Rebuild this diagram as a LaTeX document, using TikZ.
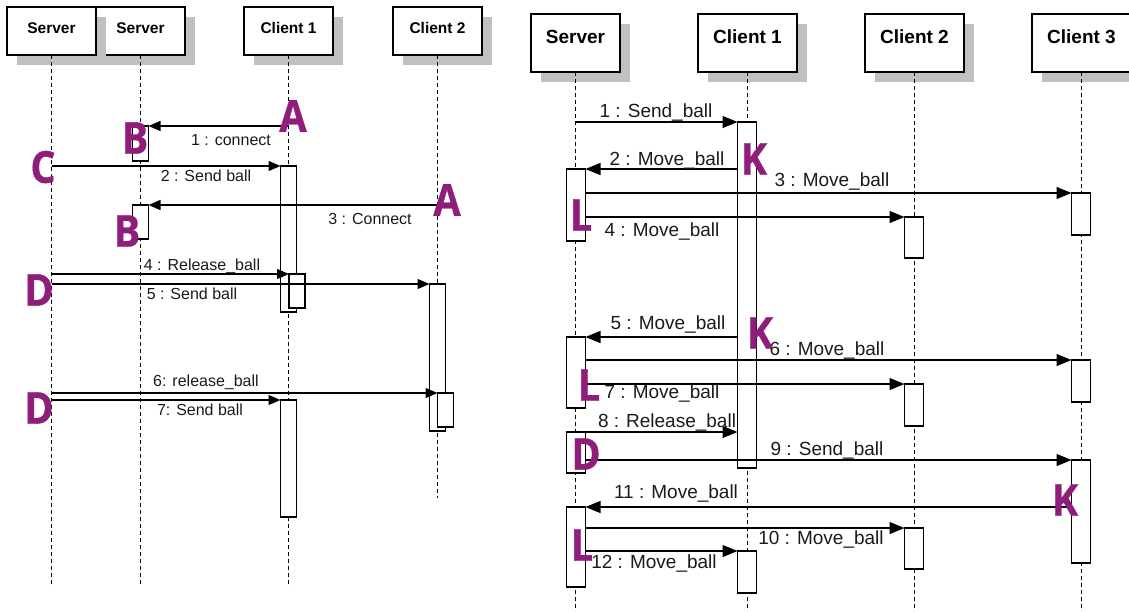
\documentclass[tikz,border=0pt]{standalone}
\usepackage{fontspec}
\setmainfont{Liberation Sans}
\newfontfamily\letterfont{Open Sans}[BoldFeatures={FakeBold=0.8}]
\usetikzlibrary{arrows.meta}
\definecolor{shadowgray}{HTML}{C0C0C0}
\definecolor{markpurple}{HTML}{8E1E7A}
\definecolor{inkcol}{HTML}{1A1A1A}
\begin{document}
\begin{tikzpicture}[x=1pt,y=-1pt,
  shadowbox/.style={fill=shadowgray, draw=none, inner sep=0pt, outer sep=0pt, anchor=north west},
  hdrbox/.style={draw=black, fill=white, line width=1.2pt, inner sep=0pt, outer sep=0pt, anchor=north west},
  lifeline/.style={line width=1pt, dash pattern=on 4pt off 3pt},
  actbox/.style={draw=black, fill=white, line width=1.2pt, inner sep=0pt, outer sep=0pt, anchor=north west},
  msgL/.style={line width=1.2pt, -{Triangle[length=12pt,width=10pt]}},
  msgR/.style={line width=1.2pt, -{Triangle[length=15pt,width=12pt]}},
  lblL/.style={anchor=base, inner sep=0pt, text=inkcol, font=\fontsize{16}{16}\selectfont},
  lblR/.style={anchor=base, inner sep=0pt, text=inkcol, font=\fontsize{19}{19}\selectfont},
  hdrL/.style={anchor=base, inner sep=0pt, font=\bfseries\fontsize{15.5}{15.5}\selectfont},
  hdrR/.style={anchor=base, inner sep=0pt, font=\bfseries\fontsize{19}{19}\selectfont},
  bigletter/.style={text=markpurple, inner sep=0pt, anchor=center, xscale=0.9, font=\letterfont\bfseries\fontsize{44}{44}\selectfont}
]
\useasboundingbox (0,0) rectangle (1129,611);

% ================= LEFT DIAGRAM =================
% headers
\node[shadowbox, minimum width=89pt, minimum height=48pt] (s2sh) at (106,17) {};
\node[hdrbox, minimum width=89pt, minimum height=48pt] (ls2) at (96,7) {};
\node[shadowbox, minimum width=89pt, minimum height=48pt] (s1sh) at (17,17) {};
\node[hdrbox, minimum width=89pt, minimum height=48pt] (ls1) at (7,7) {};
\node[shadowbox, minimum width=89pt, minimum height=48pt] (c1sh) at (254,17) {};
\node[hdrbox, minimum width=89pt, minimum height=48pt] (lc1) at (244,7) {};
\node[shadowbox, minimum width=89pt, minimum height=48pt] (c2sh) at (403,17) {};
\node[hdrbox, minimum width=89pt, minimum height=48pt] (lc2) at (393,7) {};
\node[hdrL] (ls1t) at (51.5,33) {Server};
\node[hdrL] (ls2t) at (140.5,33) {Server};
\node[hdrL] (lc1t) at (288.5,33) {Client 1};
\node[hdrL] (lc2t) at (437.5,33) {Client 2};

% lifelines
\coordinate (ls1end) at (51.5,587);
\coordinate (ls2end) at (140.5,584);
\coordinate (lc1end) at (288.5,587);
\coordinate (lc2end) at (437.5,498);
\draw[lifeline] (ls1.south) -- (ls1end);
\draw[lifeline] (ls2.south) -- (ls2end);
\draw[lifeline] (lc1.south) -- (lc1end);
\draw[lifeline] (lc2.south) -- (lc2end);

% activations
\node[actbox, minimum width=16pt, minimum height=35pt] (lb1) at (132.5,126) {};
\node[actbox, minimum width=16pt, minimum height=34pt] (lb2) at (132.5,205) {};
\node[actbox, minimum width=16pt, minimum height=146pt] (lc1a) at (280.5,166) {};
\node[actbox, minimum width=16pt, minimum height=34pt] (lc1n) at (289,274) {};
\node[actbox, minimum width=16pt, minimum height=147pt] (lc2a) at (429.5,284) {};
\node[actbox, minimum width=16pt, minimum height=34pt] (lc2n) at (437.5,393) {};
\node[actbox, minimum width=16pt, minimum height=117pt] (lc1b) at (280.5,400) {};

% messages
\coordinate (m1a) at (288.5,126);
\coordinate (m2a) at (51.5,166);
\coordinate (m3a) at (437.5,205);
\coordinate (m4a) at (51.5,274);
\coordinate (m5a) at (51.5,284);
\coordinate (m6a) at (51.5,393);
\coordinate (m7a) at (51.5,400);
\draw[msgL] (m1a) -- (lb1.north east);
\draw[msgL] (m2a) -- (lc1a.north west);
\draw[msgL] (m3a) -- (lb2.north east);
\draw[msgL] (m4a) -- (lc1n.north west);
\draw[msgL] (m5a) -- (lc2a.north west);
\draw[msgL] (m6a) -- (lc2n.north west);
\draw[msgL] (m7a) -- (lc1b.north west);

\node[lblL] (l1) at (231,145) {1 : connect};
\node[lblL] (l2) at (206,181) {2 : Send ball};
\node[lblL] (l3) at (370,224) {3 : Connect};
\node[lblL] (l4) at (202,270) {4 : Release\_ball};
\node[lblL] (l5) at (192,299) {5 : Send ball};
\node[lblL] (l6) at (206,386) {6: release\_ball};
\node[lblL] (l7) at (200,415) {7: Send ball};

% letters
\node[bigletter] (LA1) at (293,116) {A};
\node[bigletter] (LB1) at (135,138) {B};
\node[bigletter] (LC1) at (43,167) {C};
\node[bigletter] (LA2) at (447,200) {A};
\node[bigletter] (LB2) at (127,231) {B};
\node[bigletter] (LD1) at (39,290) {D};
\node[bigletter] (LD2) at (39,408) {D};

% ================= RIGHT DIAGRAM =================
\node[shadowbox, minimum width=89pt, minimum height=58pt] (rssh) at (541,24) {};
\node[hdrbox, minimum width=89pt, minimum height=58pt] (rs) at (531,14) {};
\node[shadowbox, minimum width=99pt, minimum height=58pt] (rc1sh) at (708,24) {};
\node[hdrbox, minimum width=99pt, minimum height=58pt] (rc1h) at (698,14) {};
\node[shadowbox, minimum width=99pt, minimum height=58pt] (rc2sh) at (875,24) {};
\node[hdrbox, minimum width=99pt, minimum height=58pt] (rc2h) at (865,14) {};
\node[shadowbox, minimum width=99pt, minimum height=58pt] (rc3sh) at (1042,24) {};
\node[hdrbox, minimum width=99pt, minimum height=58pt] (rc3h) at (1032,14) {};
\node[hdrR] (rst) at (575.5,43) {Server};
\node[hdrR] (rc1t) at (747.5,43) {Client 1};
\node[hdrR] (rc2t) at (914.5,43) {Client 2};
\node[hdrR] (rc3t) at (1081.5,43) {Client 3};

\coordinate (rsend) at (575.5,611);
\coordinate (rc1end) at (747.5,611);
\coordinate (rc2end) at (914.5,611);
\coordinate (rc3end) at (1081.5,611);
\draw[lifeline] (rs.south) -- (rsend);
\draw[lifeline] (rc1h.south) -- (rc1end);
\draw[lifeline] (rc2h.south) -- (rc2end);
\draw[lifeline] (rc3h.south) -- (rc3end);

\node[actbox, minimum width=19pt, minimum height=346pt] (rc1) at (737.5,122) {};
\node[actbox, minimum width=19pt, minimum height=72pt] (rs1) at (566.5,169) {};
\node[actbox, minimum width=19pt, minimum height=42pt] (rc3a) at (1071.5,193) {};
\node[actbox, minimum width=19pt, minimum height=41pt] (rc2a) at (904.5,217) {};
\node[actbox, minimum width=19pt, minimum height=71pt] (rs2) at (566.5,337) {};
\node[actbox, minimum width=19pt, minimum height=42pt] (rc3b) at (1071.5,360) {};
\node[actbox, minimum width=19pt, minimum height=42pt] (rc2b) at (904.5,384) {};
\node[actbox, minimum width=19pt, minimum height=41pt] (rs3) at (566.5,432) {};
\node[actbox, minimum width=19pt, minimum height=103pt] (rc3c) at (1071.5,460) {};
\node[actbox, minimum width=19pt, minimum height=80pt] (rs4) at (566.5,507) {};
\node[actbox, minimum width=19pt, minimum height=41pt] (rc2c) at (904.5,528) {};
\node[actbox, minimum width=19pt, minimum height=42pt] (rc1b) at (737.5,551) {};

\coordinate (r1a) at (575.5,122);
\coordinate (r2a) at (737.5,169);
\coordinate (r3a) at (585.5,193);
\coordinate (r4a) at (585.5,217);
\coordinate (r5a) at (737.5,337);
\coordinate (r6a) at (585.5,360);
\coordinate (r7a) at (585.5,384);
\coordinate (r8b) at (737.5,432);
\coordinate (r9a) at (585.5,460);
\coordinate (r11a) at (1071.5,507);
\coordinate (r10a) at (585.5,528);
\coordinate (r12a) at (585.5,551);
\draw[msgR] (r1a) -- (rc1.north west);
\draw[msgR] (r2a) -- (rs1.north east);
\draw[msgR] (r3a) -- (rc3a.north west);
\draw[msgR] (r4a) -- (rc2a.north west);
\draw[msgR] (r5a) -- (rs2.north east);
\draw[msgR] (r6a) -- (rc3b.north west);
\draw[msgR] (r7a) -- (rc2b.north west);
\draw[msgR] (rs3.north east) -- (r8b);
\draw[msgR] (r9a) -- (rc3c.north west);
\draw[msgR] (r11a) -- (rs4.north east);
\draw[msgR] (r10a) -- (rc2c.north west);
\draw[msgR] (r12a) -- (rc1b.north west);

\node[lblR] (t1) at (656,117) {1 : Send\_ball};
\node[lblR] (t2) at (667,165) {2 : Move\_ball};
\node[lblR] (t3) at (832,186) {3 : Move\_ball};
\node[lblR] (t4) at (662,236) {4 : Move\_ball};
\node[lblR] (t5) at (668,329) {5 : Move\_ball};
\node[lblR] (t6) at (827,355) {6 : Move\_ball};
\node[lblR] (t7) at (662,398) {7 : Move\_ball};
\node[lblR] (t8) at (667,427) {8 : Release\_ball};
\node[lblR] (t9) at (827,455) {9 : Send\_ball};
\node[lblR] (t11) at (676,498) {11 : Move\_ball};
\node[lblR] (t10) at (821,544) {10 : Move\_ball};
\node[lblR] (t12) at (654,568) {12 : Move\_ball};

\node[bigletter] (RK1) at (754,159) {K};
\node[bigletter] (RL1) at (581,215) {L};
\node[bigletter] (RK2) at (760,333) {K};
\node[bigletter] (RL2) at (589,385) {L};
\node[bigletter] (RD1) at (586,454) {D};
\node[bigletter] (RL3) at (582,545) {L};
\node[bigletter] (RK3) at (1065,500) {K};
\end{tikzpicture}
\end{document}
